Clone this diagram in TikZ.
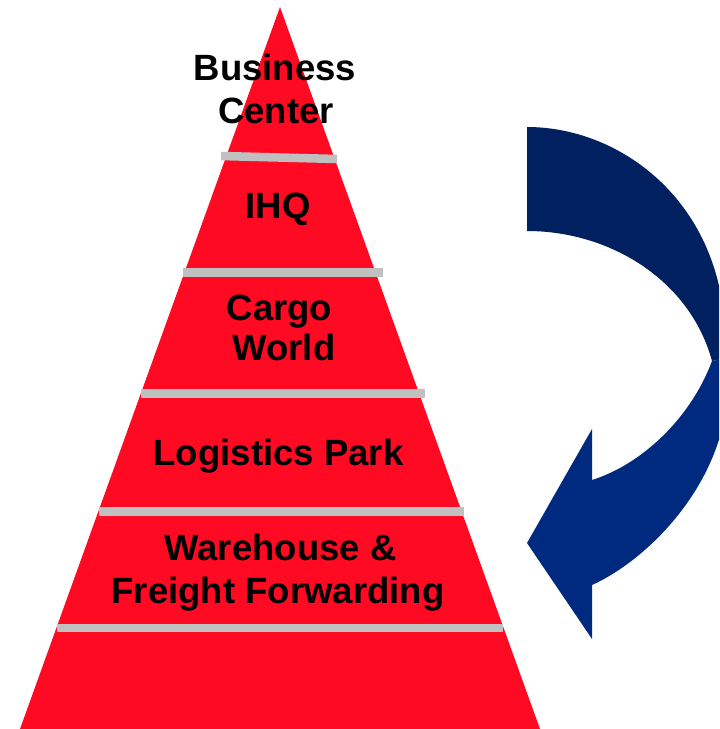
\documentclass[tikz,border=0pt]{standalone}
\usepackage{fontspec}
\setmainfont{Liberation Sans}
\definecolor{pyrred}{RGB}{255,10,34}
\definecolor{sepgray}{RGB}{192,192,192}
\definecolor{navydark}{RGB}{0,32,96}
\definecolor{navylight}{RGB}{0,42,128}
\begin{document}
\begin{tikzpicture}[x=0.75pt,y=-0.75pt,
  lbl/.style={font=\fontsize{27.4}{32}\selectfont\bfseries, anchor=base, inner sep=0pt, text=black},
  sepline/.style={draw=sepgray, line width=6.4pt}]
\useasboundingbox (0,0) rectangle (719,729);
\begin{scope}
\clip (0,0) rectangle (719,729);
% pyramid
\fill[pyrred] (280,7) -- (540,729) -- (20,729) -- cycle;
% separators
\draw[sepline] (221,156) -- (337,159);
\draw[sepline] (183,272.5) -- (383,272.5);
\draw[sepline] (141,393.5) -- (425,393.5);
\draw[sepline] (99,511.5) -- (464,511.5);
\draw[sepline] (57,628) -- (503,628);
% curved arrow
\fill[navydark] (527,231) -- (527,127) .. controls (620,127) and (719,200) .. (725,330)
  -- (727,358) -- (712,361) .. controls (690,280) and (610,231) .. (527,231) -- cycle;
\fill[navylight] (712,361) -- (727,358) .. controls (740,470) and (652,558) .. (592,585)
  -- (592,639) -- (527,543) -- (592,429) -- (592,480)
  .. controls (640,465) and (690,420) .. (712,361) -- cycle;
\end{scope}
% labels
\node[lbl] (bc1) at (275,80) {Business};
\node[lbl] (bc2) at (276,123) {Center};
\node[lbl] (ihq) at (278,218) {IHQ};
\node[lbl] (cw1) at (279.5,320) {Cargo};
\node[lbl] (cw2) at (284,360) {World};
\node[lbl] (lp) at (278.5,465) {Logistics Park};
\node[lbl] (wf1) at (280.5,560) {Warehouse \&};
\node[lbl] (wf2) at (278,603) {Freight Forwarding};
\end{tikzpicture}
\end{document}
